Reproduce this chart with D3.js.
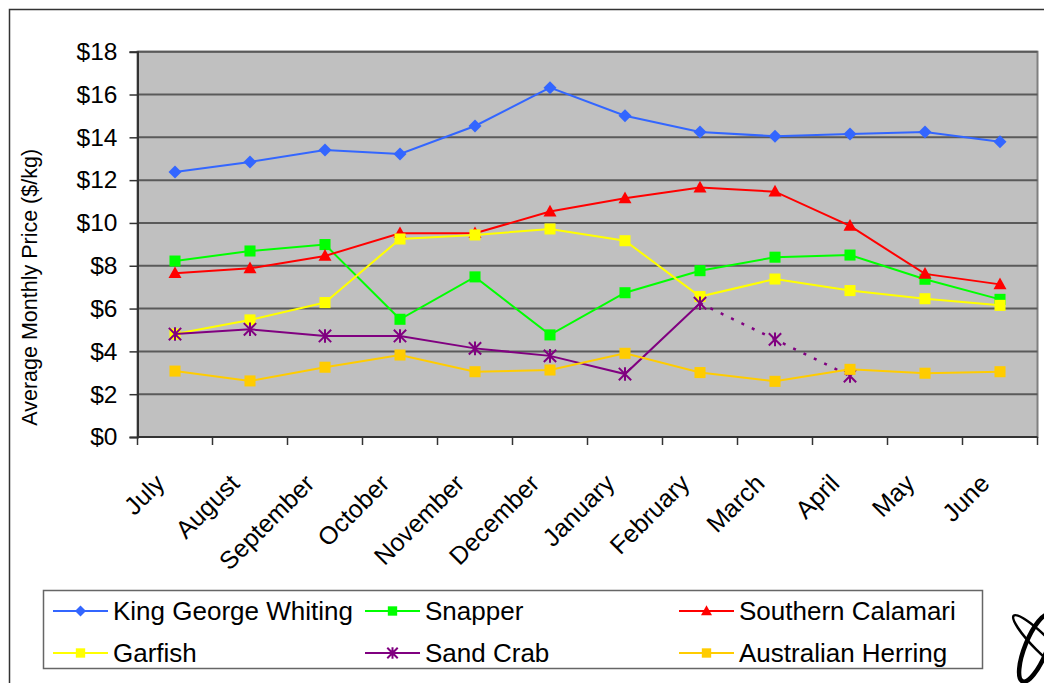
<!DOCTYPE html>
<html>
<head>
<meta charset="utf-8">
<script src="https://cdn.jsdelivr.net/npm/d3@7"></script>
<style>
  html, body { margin: 0; padding: 0; background: #fff; }
  svg { display: block; font-family: Arial, "Liberation Sans", sans-serif; }
</style>
</head>
<body>
<svg id="chart" width="1044" height="683"></svg>
<script>
// Monthly average prices ($/kg), July to June
const months = ["July", "August", "September", "October", "November", "December",
                "January", "February", "March", "April", "May", "June"];
const kingGeorgeWhiting = [12.38, 12.85, 13.41, 13.22, 14.53, 16.32, 15.01, 14.25, 14.05, 14.16, 14.25, 13.79];
const snapper           = [8.22, 8.69, 8.99, 5.50, 7.48, 4.77, 6.74, 7.77, 8.40, 8.50, 7.37, 6.43];
const southernCalamari  = [7.65, 7.88, 8.46, 9.52, 9.52, 10.53, 11.15, 11.65, 11.46, 9.86, 7.62, 7.13];
const garfish           = [4.81, 5.47, 6.28, 9.25, 9.44, 9.72, 9.17, 6.56, 7.38, 6.84, 6.46, 6.15];
const sandCrab          = [4.81, 5.03, 4.72, 4.72, 4.14, 3.79, 2.94, 6.25, 4.56, 2.85, null, null];
const australianHerring = [3.08, 2.62, 3.26, 3.83, 3.05, 3.13, 3.91, 3.01, 2.60, 3.16, 2.98, 3.05];
const sandCrabDottedFrom = "February";   // segments after this month are drawn dotted
const yTicks = [0, 2, 4, 6, 8, 10, 12, 14, 16, 18];

const series = [
  { name: "King George Whiting", values: kingGeorgeWhiting, color: "#3366FF", marker: "diamond" },
  { name: "Snapper",             values: snapper,           color: "#00FF00", marker: "square" },
  { name: "Southern Calamari",   values: southernCalamari,  color: "#FF0000", marker: "triangle" },
  { name: "Garfish",             values: garfish,           color: "#FFFF00", marker: "square" },
  { name: "Sand Crab",           values: sandCrab,          color: "#800080", marker: "star" },
  { name: "Australian Herring",  values: australianHerring, color: "#FFCC00", marker: "square" }
];

const svg = d3.select("#chart");

// outer chart frame
svg.append("rect")
  .attr("x", 9.5).attr("y", 9.5).attr("width", 1100).attr("height", 700)
  .attr("fill", "#fff").attr("stroke", "#333").attr("stroke-width", 1.5);

const plot = { left: 137.5, right: 1037.5, top: 51.7, bottom: 437 };

const x = d3.scaleBand().domain(months).range([plot.left, plot.right]);
const y = d3.scaleLinear().domain([0, 18]).range([plot.bottom, plot.top]);
const cx = m => x(m) + x.bandwidth() / 2;

// plot background
svg.append("rect")
  .attr("x", plot.left).attr("y", plot.top)
  .attr("width", plot.right - plot.left).attr("height", plot.bottom - plot.top)
  .attr("fill", "#C0C0C0").attr("stroke", "#808080").attr("stroke-width", 2);

// horizontal gridlines
svg.append("g").selectAll("line").data(yTicks.filter(t => t > 0)).join("line")
  .attr("x1", plot.left).attr("x2", plot.right)
  .attr("y1", d => y(d)).attr("y2", d => y(d))
  .attr("stroke", "#5a5a5a").attr("stroke-width", 2);

// y axis
const yAxis = d3.axisLeft(y).tickValues(yTicks).tickSize(8).tickPadding(12)
  .tickFormat(d => "$" + d);
const gy = svg.append("g").attr("transform", `translate(${plot.left},0)`).call(yAxis);
gy.select(".domain").attr("stroke", "#333").attr("stroke-width", 2);
gy.selectAll(".tick line").attr("stroke", "#333").attr("stroke-width", 1.5);
gy.selectAll(".tick text").attr("font-size", 24.5).attr("fill", "#000")
  .attr("font-family", "Arial, 'Liberation Sans', sans-serif");

// x axis: ticks between categories
const gx = svg.append("g").attr("transform", `translate(0,${plot.bottom})`);
gx.append("line").attr("x1", plot.left).attr("x2", plot.right)
  .attr("stroke", "#333").attr("stroke-width", 2);
const boundaries = months.map(m => x(m)).concat([plot.right]);
gx.selectAll("line.tk").data(boundaries).join("line").attr("class", "tk")
  .attr("x1", d => d).attr("x2", d => d).attr("y1", 0).attr("y2", 8)
  .attr("stroke", "#333").attr("stroke-width", 1.5);
gx.selectAll("text").data(months).join("text")
  .attr("transform", d => `translate(${cx(d) - 9},${48}) rotate(-45)`)
  .attr("text-anchor", "end").attr("font-size", 25).attr("fill", "#000")
  .text(d => d);

// y axis title
svg.append("text")
  .attr("transform", `translate(37,${(plot.top + plot.bottom) / 2 + 43}) rotate(-90)`)
  .attr("text-anchor", "middle").attr("font-size", 21.5).attr("fill", "#000")
  .text("Average Monthly Price ($/kg)");

// markers
function drawMarker(g, type, color, px, py, s) {
  if (type === "diamond") {
    g.append("path").attr("d", `M${px},${py - s}L${px + s},${py}L${px},${py + s}L${px - s},${py}Z`)
      .attr("fill", color);
  } else if (type === "square") {
    g.append("rect").attr("x", px - s * 0.85).attr("y", py - s * 0.85)
      .attr("width", s * 1.7).attr("height", s * 1.7).attr("fill", color);
  } else if (type === "triangle") {
    g.append("path").attr("d", `M${px},${py - s * 1.05}L${px + s},${py + s * 0.75}L${px - s},${py + s * 0.75}Z`)
      .attr("fill", color);
  } else if (type === "star") {
    const r = s * 0.95;
    g.append("path")
      .attr("d", `M${px - r},${py - r}L${px + r},${py + r}M${px - r},${py + r}L${px + r},${py - r}M${px},${py - r * 1.1}L${px},${py + r * 1.1}`)
      .attr("stroke", color).attr("stroke-width", 2).attr("fill", "none");
  }
}

// series lines and markers
const dotIdx = months.indexOf(sandCrabDottedFrom);
series.forEach(s => {
  const g = svg.append("g");
  const pts = months.map((m, i) => ({ m, i, v: s.values[i] })).filter(p => p.v != null);
  const line = d3.line().x(p => cx(p.m)).y(p => y(p.v));
  if (s.name === "Sand Crab") {
    g.append("path").attr("d", line(pts.filter(p => p.i <= dotIdx)))
      .attr("fill", "none").attr("stroke", s.color).attr("stroke-width", 2);
    g.append("path").attr("d", line(pts.filter(p => p.i >= dotIdx)))
      .attr("fill", "none").attr("stroke", s.color).attr("stroke-width", 2.5)
      .attr("stroke-dasharray", "3,8.5");
  } else {
    g.append("path").attr("d", line(pts))
      .attr("fill", "none").attr("stroke", s.color).attr("stroke-width", 2);
  }
  pts.forEach(p => drawMarker(g, s.marker, s.color, cx(p.m), y(p.v), 6.5));
});

// legend
const legend = svg.append("g");
legend.append("rect").attr("x", 43.5).attr("y", 590.5).attr("width", 939).attr("height", 78)
  .attr("fill", "#fff").attr("stroke", "#666").attr("stroke-width", 1.5);
const legendCols = [53, 365, 679];
const legendRows = [611, 653];
series.forEach((s, i) => {
  const lx = legendCols[i % 3], ly = legendRows[Math.floor(i / 3)];
  const g = legend.append("g");
  g.append("line").attr("x1", lx).attr("x2", lx + 55).attr("y1", ly).attr("y2", ly)
    .attr("stroke", s.color).attr("stroke-width", 2);
  drawMarker(g, s.marker, s.color, lx + 27.5, ly, 5.5);
  g.append("text").attr("x", lx + 60).attr("y", ly + 8.5)
    .attr("font-size", 26).attr("fill", "#000").text(s.name);
});

// corner emblem
const emblem = svg.append("g").attr("fill", "none").attr("stroke", "#000");
emblem.append("ellipse").attr("cx", 1036).attr("cy", 648).attr("rx", 11).attr("ry", 36)
  .attr("transform", "rotate(22,1036,648)").attr("stroke-width", 4.5);
emblem.append("ellipse").attr("cx", 1042).attr("cy", 644).attr("rx", 8).attr("ry", 40)
  .attr("transform", "rotate(-45,1042,644)").attr("stroke-width", 2.5);
</script>
</body>
</html>
